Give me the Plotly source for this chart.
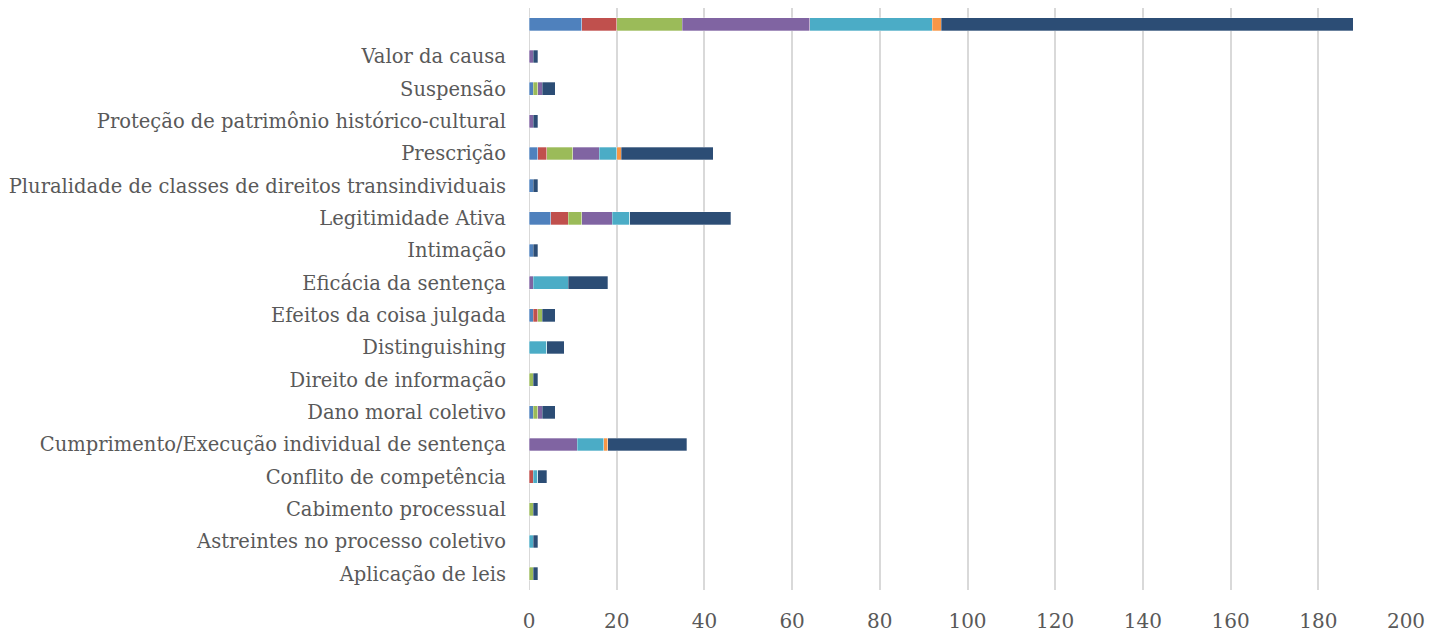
import plotly.graph_objects as go

categories = [
    "Aplicação de leis",
    "Astreintes no processo coletivo",
    "Cabimento processual",
    "Conflito de competência",
    "Cumprimento/Execução individual de sentença",
    "Dano moral coletivo",
    "Direito de informação",
    "Distinguishing",
    "Efeitos da coisa julgada",
    "Eficácia da sentença",
    "Intimação",
    "Legitimidade Ativa",
    "Pluralidade de classes de direitos transindividuais",
    "Prescrição",
    "Proteção de patrimônio histórico-cultural",
    "Suspensão",
    "Valor da causa",
    " ",
]

series_names = ["Série 1", "Série 2", "Série 3", "Série 4", "Série 5", "Série 6", "Série 7"]
colors = ["#4F81BD", "#C0504D", "#9BBB59", "#8064A2", "#4BACC6", "#F79646", "#2C4D75"]

s1 = [0, 0, 0, 0, 0, 1, 0, 0, 1, 0, 1, 5, 1, 2, 0, 1, 0, 12]
s2 = [0, 0, 0, 1, 0, 0, 0, 0, 1, 0, 0, 4, 0, 2, 0, 0, 0, 8]
s3 = [1, 0, 1, 0, 0, 1, 1, 0, 1, 0, 0, 3, 0, 6, 0, 1, 0, 15]
s4 = [0, 0, 0, 0, 11, 1, 0, 0, 0, 1, 0, 7, 0, 6, 1, 1, 1, 29]
s5 = [0, 1, 0, 1, 6, 0, 0, 4, 0, 8, 0, 4, 0, 4, 0, 0, 0, 28]
s6 = [0, 0, 0, 0, 1, 0, 0, 0, 0, 0, 0, 0, 0, 1, 0, 0, 0, 2]
s7 = [1, 1, 1, 2, 18, 3, 1, 4, 3, 9, 1, 23, 1, 21, 1, 3, 1, 94]

x_ticks = [0, 20, 40, 60, 80, 100, 120, 140, 160, 180, 200]

fig = go.Figure()
for name, vals, col in zip(series_names, [s1, s2, s3, s4, s5, s6, s7], colors):
    fig.add_trace(go.Bar(
        y=categories, x=vals, name=name, orientation="h",
        marker=dict(color=col, line=dict(color="rgba(255,255,255,0.6)", width=0.5)),
    ))

font_family = "DejaVu Serif"
text_color = "#595959"
fig.update_layout(
    barmode="stack",
    bargap=0.6,
    width=1434, height=625,
    margin=dict(l=521, r=36, t=0, b=43, autoexpand=False),
    plot_bgcolor="white", paper_bgcolor="white",
    showlegend=False,
    font=dict(family=font_family, size=19.5, color=text_color),
    xaxis=dict(
        range=[0, 200], tickvals=x_ticks, showgrid=True,
        gridcolor="#D9D9D9", gridwidth=2, zeroline=False, automargin=False,
        showline=False, ticks="", ticklabelstandoff=17,
        tickfont=dict(size=20, family=font_family, color=text_color),
    ),
    yaxis=dict(
        type="category", categoryorder="array", categoryarray=categories,
        showgrid=False, zeroline=False, showline=False, ticks="", automargin=False,
        ticklabelstandoff=22,
        tickfont=dict(size=19.5, family=font_family, color=text_color),
    ),
)
fig.add_vline(x=0, line=dict(color="#D9D9D9", width=2), layer="below")

fig.write_html("out.html")
